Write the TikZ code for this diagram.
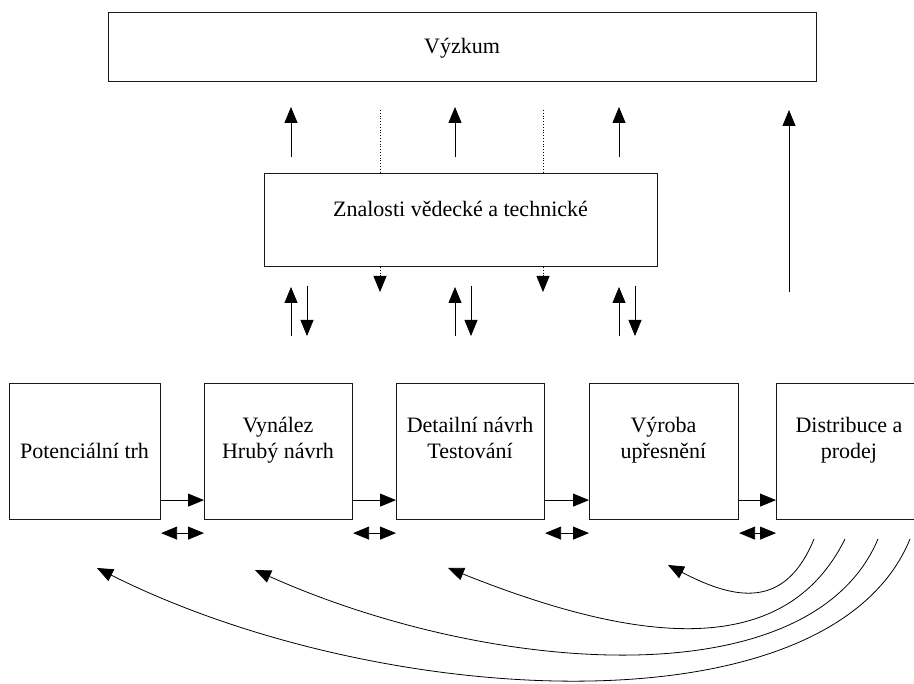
\documentclass[tikz,border=0pt]{standalone}
\usepackage{fontspec}
\setmainfont{Liberation Serif}
\usetikzlibrary{arrows.meta,calc}
\begin{document}
\begin{tikzpicture}[x=1pt,y=-1pt,
  tip/.tip={Triangle[length=16pt,width=13pt]},
  box/.style={draw=black!90, line width=1.1pt, inner sep=0pt, anchor=north west},
  lbl/.style={font=\rmfamily\fontsize{22}{26}\selectfont, inner sep=0pt, anchor=base},
  arr/.style={line width=0.8pt, -tip},
  darr/.style={line width=0.8pt, tip-tip},
  dots/.style={line width=0.8pt, dotted}
]
\useasboundingbox (0,0) rectangle (914,684);
\clip (0,0) rectangle (914,684);

% boxes
\node[box, minimum width=708pt, minimum height=69pt] (vy) at (108,12) {};
\node[box, minimum width=393pt, minimum height=93pt] (zn) at (264,173) {};
\node[box, minimum width=151pt, minimum height=136pt] (b1) at (9,383) {};
\node[box, minimum width=148pt, minimum height=136pt] (b2) at (204,383) {};
\node[box, minimum width=148pt, minimum height=136pt] (b3) at (396,383) {};
\node[box, minimum width=149pt, minimum height=136pt] (b4) at (589,383) {};
\node[box, minimum width=146pt, minimum height=136pt] (b5) at (776,383) {};

% labels
\node[lbl] (tvy) at (462,54) {Výzkum};
\node[lbl] (tzn) at (460.5,217) {Znalosti vědecké a technické};
\node[lbl] (t1) at (84.5,459) {Potenciální trh};
\node[lbl] (t2a) at (278,433) {Vynález};
\node[lbl] (t2b) at (278,459) {Hrubý návrh};
\node[lbl] (t3a) at (470,433) {Detailní návrh};
\node[lbl] (t3b) at (470,459) {Testování};
\node[lbl] (t4a) at (663.5,433) {Výroba};
\node[lbl] (t4b) at (663.5,459) {upřesnění};
\node[lbl] (t5a) at (849,433) {Distribuce a};
\node[lbl] (t5b) at (849,459) {prodej};

% arrows from Znalosti up to Výzkum
\foreach \x [count=\i] in {291,455,619} {
  \coordinate (us\i) at (\x,157);
  \coordinate (ut\i) at (\x,107);
  \draw[arr] (us\i) -- (ut\i);
}
% dotted links
\foreach \x [count=\i] in {380,543} {
  \coordinate (dt\i) at (\x,110);
  \coordinate (db\i) at (\x,292);
  \draw[dots] (dt\i) -- (dt\i |- zn.north);
  \draw[dots, -tip] (db\i |- zn.south) -- (db\i);
}
% up/down pairs below Znalosti
\foreach \x [count=\i] in {291,455,619} {
  \coordinate (pa\i) at (\x,336);
  \coordinate (pb\i) at (\x,287);
  \coordinate (qa\i) at (\x+16,286);
  \coordinate (qb\i) at (\x+16,336);
  \draw[arr] (pa\i) -- (pb\i);
  \draw[arr] (qa\i) -- (qb\i);
}
% long arrow to Výzkum
\coordinate (ls) at (789,292);
\coordinate (lt) at (789,110);
\draw[arr] (ls) -- (lt);

% horizontal arrows between boxes
\foreach \a/\b in {b1/b2,b2/b3,b3/b4,b4/b5} {
  \draw[arr] ([yshift=20pt]\a.south east) -- ([yshift=20pt]\b.south west);
  \draw[darr] ([yshift=-13pt]\a.south east) -- ([yshift=-13pt]\b.south west);
}

% feedback curves
\coordinate (c1s) at (814,539); \coordinate (c1t) at (668,565);
\coordinate (c2s) at (845,539); \coordinate (c2t) at (448,568);
\coordinate (c3s) at (878,539); \coordinate (c3t) at (255,570);
\coordinate (c4s) at (910,539); \coordinate (c4t) at (97,568);
\draw[arr] (c1s) .. controls (785,610) and (735,600) .. (c1t);
\draw[arr] (c2s) .. controls (785,660) and (640,645) .. (c2t);
\draw[arr] (c3s) .. controls (810,700) and (490,675) .. (c3t);
\draw[arr] (c4s) .. controls (830,735) and (380,710) .. (c4t);
\end{tikzpicture}
\end{document}
